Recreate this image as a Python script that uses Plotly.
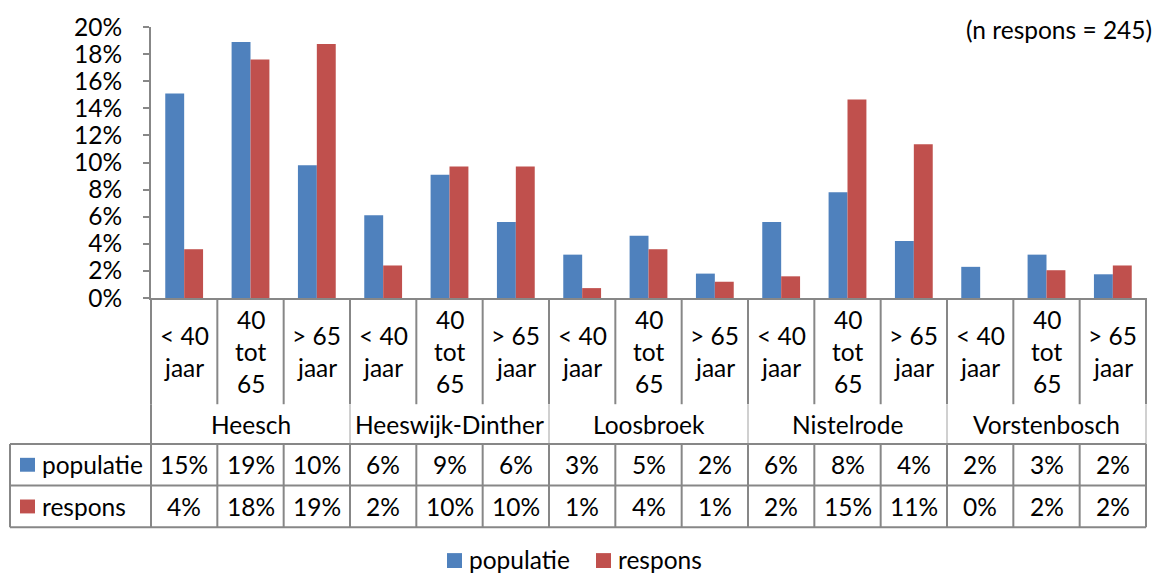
import plotly.graph_objects as go

# ---------------- data ----------------
groups = ["Heesch", "Heeswijk-Dinther", "Loosbroek", "Nistelrode", "Vorstenbosch"]
age_labels = [["< 40", "jaar"], ["40", "tot", "65"], ["> 65", "jaar"]]
populatie = [15.1, 18.9, 9.8, 6.1, 9.1, 5.6, 3.2, 4.6, 1.8, 5.6, 7.8, 4.2, 2.3, 3.2, 1.75]
respons = [3.6, 17.6, 18.75, 2.4, 9.7, 9.7, 0.73, 3.6, 1.2, 1.6, 14.65, 11.35, 0.0, 2.05, 2.4]
y_ticks = [0, 2, 4, 6, 8, 10, 12, 14, 16, 18, 20]
y_tick_text = [f"{v}%" for v in y_ticks]
note = "(n respons = 245)"
series_names = ["populatie", "respons"]
colors = ["#4F81BD", "#C0504D"]

# ---------------- layout helpers (pixel geometry) ----------------
W, H = 1163, 576
L, R, T, B = 151, 1146, 25, 298
PW, PH = R - L, B - T
FONT = "Lato, Carlito, Calibri, sans-serif"
FS = 24.5
LINE = "#878787"
LIGHT = "#d0d0d0"


def px(x):
    return (x - L) / PW


def py(y):
    return (B - y) / PH


n = len(populatie)
xs = list(range(n))

fig = go.Figure()
for name, vals, col in zip(series_names, [populatie, respons], colors):
    fig.add_trace(go.Bar(x=xs, y=vals, name=name, marker=dict(color=col, line=dict(width=0)),
                         showlegend=False))

shapes = []
annotations = []

cat_w = PW / n
y_cat_bot, y_grp_bot, y_r1, y_r2 = 405, 445, 487, 529

# vertical lines
for i in range(n + 1):
    xp = px(L + i * cat_w)
    is_group = (i % 3 == 0)
    shapes.append(dict(type="line", xref="paper", yref="paper", x0=xp, x1=xp,
                       y0=py(B), y1=py(y_cat_bot), line=dict(color=LINE, width=2)))
    if is_group:
        shapes.append(dict(type="line", xref="paper", yref="paper", x0=xp, x1=xp,
                           y0=py(y_cat_bot), y1=py(y_grp_bot),
                           line=dict(color=LINE if i == 0 else LIGHT, width=2)))
    shapes.append(dict(type="line", xref="paper", yref="paper", x0=xp, x1=xp,
                       y0=py(y_grp_bot), y1=py(y_r2), line=dict(color=LINE, width=2)))
# left edge of table
shapes.append(dict(type="line", xref="paper", yref="paper", x0=px(10), x1=px(10),
                   y0=py(y_grp_bot), y1=py(y_r2), line=dict(color=LINE, width=2)))
# horizontal lines
for yy in [y_grp_bot, y_r1, y_r2]:
    shapes.append(dict(type="line", xref="paper", yref="paper", x0=px(10), x1=px(R),
                       y0=py(yy), y1=py(yy), line=dict(color=LINE, width=2)))

# category labels
for i in range(n):
    lines = age_labels[i % 3]
    if len(lines) == 2:
        ys = [336, 368]
    else:
        ys = [320, 352, 384]
    for txt, yy in zip(lines, ys):
        annotations.append(dict(x=i, xref="x", y=py(yy), yref="paper", text=txt,
                                showarrow=False, xanchor="center", yanchor="middle",
                                font=dict(size=FS, color="black", family=FONT)))
# group labels
for g, name in enumerate(groups):
    annotations.append(dict(x=g * 3 + 1, xref="x", y=py(425), yref="paper", text=name,
                            showarrow=False, xanchor="center", yanchor="middle",
                            font=dict(size=FS, color="black", family=FONT)))
# data table rows
for vals, yy, name, col in zip([populatie, respons], [466, 508], series_names, colors):
    for i, v in enumerate(vals):
        annotations.append(dict(x=i, xref="x", y=py(yy), yref="paper", text=f"{round(v)}%",
                                showarrow=False, xanchor="center", yanchor="middle",
                                font=dict(size=FS, color="black", family=FONT)))
    shapes.append(dict(type="rect", xref="paper", yref="paper", x0=px(20), x1=px(35),
                       y0=py(yy - 7), y1=py(yy + 7), fillcolor=col, line=dict(width=0)))
    annotations.append(dict(x=px(40), xref="paper", y=py(yy), yref="paper", text=name,
                            showarrow=False, xanchor="left", yanchor="middle",
                            font=dict(size=FS, color="black", family=FONT)))

# bottom legend
for name, col, x0 in zip(series_names, colors, [447, 596]):
    shapes.append(dict(type="rect", xref="paper", yref="paper", x0=px(x0), x1=px(x0 + 15),
                       y0=py(555), y1=py(570), fillcolor=col, line=dict(width=0)))
    annotations.append(dict(x=px(x0 + 20), xref="paper", y=py(561), yref="paper", text=name,
                            showarrow=False, xanchor="left", yanchor="middle",
                            font=dict(size=FS, color="black", family=FONT)))

# note
annotations.append(dict(x=px(1154), xref="paper", y=py(28), yref="paper", text=note,
                        showarrow=False, xanchor="right", yanchor="middle",
                        font=dict(size=FS, color="black", family=FONT)))

fig.update_layout(
    width=W, height=H,
    margin=dict(l=L, r=W - R, t=T, b=H - B, pad=0),
    paper_bgcolor="white", plot_bgcolor="white",
    barmode="group", bargap=0.43, bargroupgap=0,
    font=dict(family=FONT, size=FS, color="black"),
    shapes=shapes, annotations=annotations,
    showlegend=False,
)
fig.update_xaxes(range=[-0.5, n - 0.5], showticklabels=False, ticks="", showgrid=False,
                 zeroline=False, showline=True, linecolor=LINE, linewidth=2)
fig.update_yaxes(range=[0, 20], tickvals=y_ticks, ticktext=y_tick_text, showgrid=False,
                 zeroline=False, showline=True, linecolor=LINE, linewidth=2,
                 ticks="outside", ticklen=6, tickcolor=LINE, tickwidth=2,
                 ticklabelstandoff=16, tickfont=dict(size=FS, family=FONT, color="black"))

fig.write_html(
    "out.html",
    config={"displayModeBar": False},
    post_script="document.body.style.margin='0';document.body.style.padding='0';"
                "document.body.style.overflow='hidden';",
)
